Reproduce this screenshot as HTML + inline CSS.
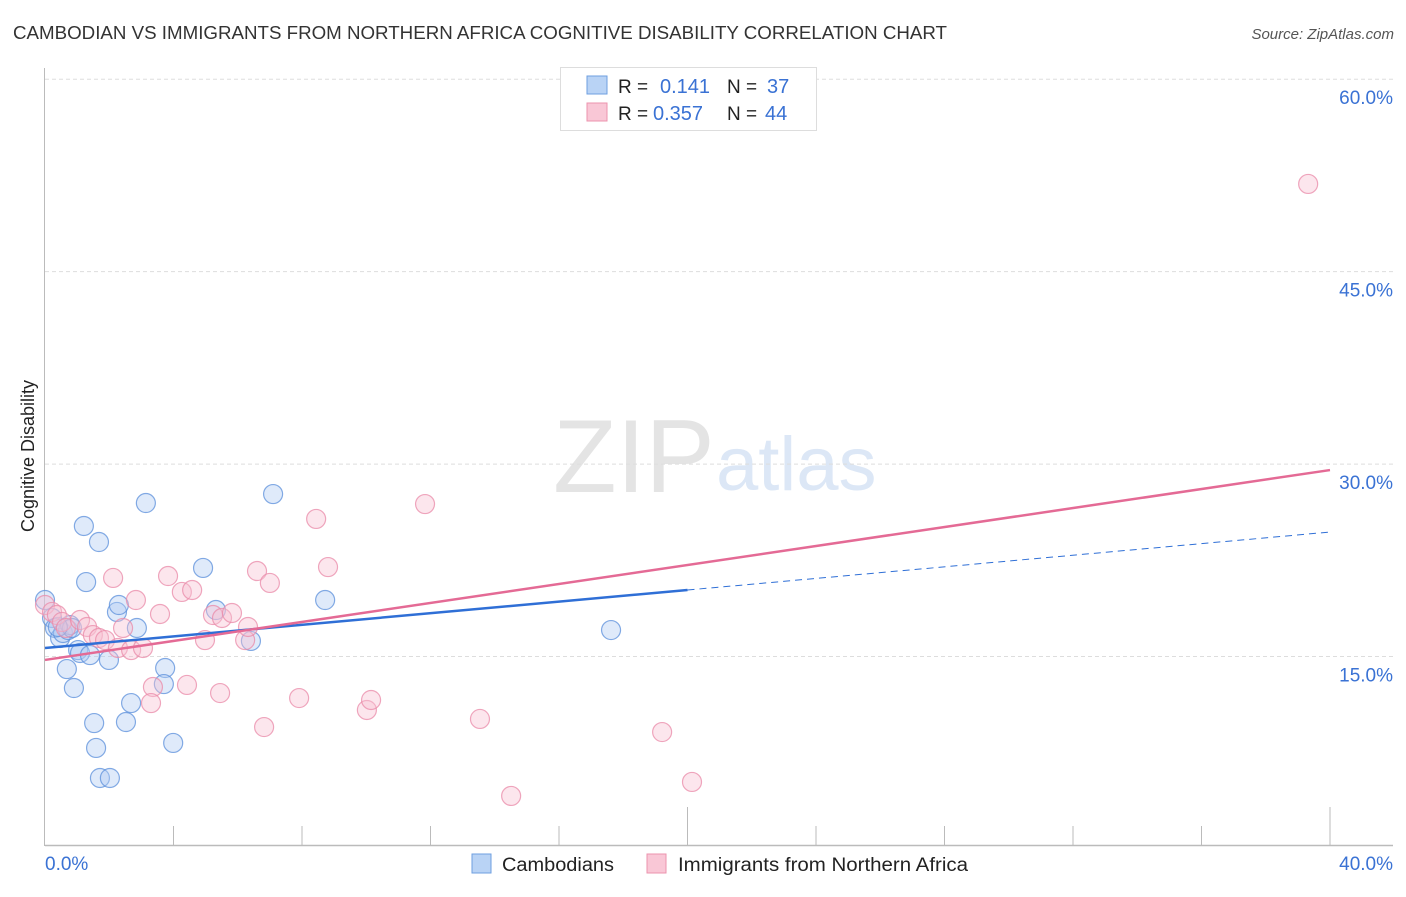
<!DOCTYPE html>
<html><head><meta charset="utf-8"><style>
body{margin:0;background:#fff;font-family:"Liberation Sans",sans-serif;}
svg text{font-family:"Liberation Sans",sans-serif;}
</style></head><body>
<svg width="1406" height="892" viewBox="0 0 1406 892" id="chart">
<text x="13" y="39" font-size="18" fill="#333" textLength="934" lengthAdjust="spacingAndGlyphs">CAMBODIAN VS IMMIGRANTS FROM NORTHERN AFRICA COGNITIVE DISABILITY CORRELATION CHART</text>
<text x="1394" y="39" font-size="15" fill="#555" font-style="italic" text-anchor="end">Source: ZipAtlas.com</text>
<g>
<text x="553" y="492" font-family="Liberation Serif" font-size="104" fill="#e4e4e4">ZIP</text>
<text x="716" y="490" font-size="76" fill="#dce7f6">atlas</text>
</g>
<g id="grid"></g>
<g id="axes"></g>
<g id="marks"></g>
<text transform="translate(34,456) rotate(-90)" font-size="18" fill="#222" text-anchor="middle">Cognitive Disability</text>
<g>
<rect x="560.5" y="67.5" width="256" height="63" fill="#fff" stroke="#ddd"/>
<rect x="587" y="76" width="20" height="18" fill="#b9d3f5" stroke="#6e9fe0"/>
<rect x="587" y="103" width="20" height="18" fill="#f9c7d6" stroke="#ec93ae"/>
<text x="618" y="93" font-size="19" fill="#222">R = </text><text x="660" y="93" font-size="20" fill="#3a72d4">0.141</text>
<text x="727" y="93" font-size="19" fill="#222">N = </text><text x="767" y="93" font-size="20" fill="#3a72d4">37</text>
<text x="618" y="120" font-size="19" fill="#222">R = </text><text x="653" y="120" font-size="20" fill="#3a72d4">0.357</text>
<text x="727" y="120" font-size="19" fill="#222">N = </text><text x="765" y="120" font-size="20" fill="#3a72d4">44</text>
</g>
<g>
<rect x="472" y="854" width="19" height="19" fill="#b9d3f5" stroke="#6e9fe0"/>
<text x="502" y="871" font-size="19" fill="#222" textLength="112" lengthAdjust="spacingAndGlyphs">Cambodians</text>
<rect x="647" y="854" width="19" height="19" fill="#f9c7d6" stroke="#ec93ae"/>
<text x="678" y="871" font-size="19" fill="#222" textLength="290" lengthAdjust="spacingAndGlyphs">Immigrants from Northern Africa</text>
</g>
</svg>
<script>
const yTicks=[15,30,45,60];
const yTickLabels=["15.0%","30.0%","45.0%","60.0%"];
const xTickLabels=["0.0%","40.0%"];
const blueX=[0,0.22,0.31,0.47,0.56,0.72,0.78,0.84,1.03,1.09,1.21,1.28,1.40,0.68,0.90,1.68,1.99,2.24,2.30,1.53,1.59,1.71,2.02,2.52,2.68,2.86,3.14,3.74,3.70,3.99,4.92,5.32,6.41,7.10,8.72,17.62,0.40];
const blueY=[19.25,17.85,17.07,16.29,16.68,16.91,17.30,17.07,15.35,15.12,25.02,20.65,14.96,13.87,12.39,23.77,14.58,18.32,18.86,9.66,7.72,5.38,5.38,9.74,11.22,17.07,26.81,13.95,12.70,8.11,21.75,18.47,16.06,27.51,19.25,16.91,17.15];
const pinkX=[0,0.22,0.37,0.53,0.65,1.09,1.31,1.49,1.68,1.87,2.12,2.27,2.43,2.68,2.83,3.05,3.36,3.30,3.58,3.83,4.26,4.58,4.42,4.98,5.23,5.45,5.51,5.82,6.23,6.32,6.60,6.82,7.00,7.91,8.44,8.81,10.02,10.15,11.83,13.54,14.51,19.21,20.14,39.32];
const pinkY=[18.86,18.32,18.08,17.54,17.07,17.69,17.15,16.52,16.29,16.13,20.97,15.51,17.07,15.35,19.25,15.51,12.47,11.22,18.16,21.12,19.88,20.03,12.63,16.13,18.08,12.00,17.85,18.24,16.13,17.15,21.51,9.35,20.58,11.61,25.57,21.82,10.68,11.46,26.73,9.98,3.98,8.96,5.07,51.68];
const blueTrend=[15.51,0.226]; // intercept, slope
const pinkTrend=[14.58,0.37];
const blueSolidEnd=20;

const NS="http://www.w3.org/2000/svg";
const X0=45,X1=1330,Y0=847,PXY=12.83;
const sx=v=>X0+(X1-X0)*v/40;
const sy=v=>Y0-v*PXY;
function mk(tag,attrs,parent){const e=document.createElementNS(NS,tag);for(const k in attrs)e.setAttribute(k,attrs[k]);parent.appendChild(e);return e;}
const grid=document.getElementById('grid'),axes=document.getElementById('axes'),marks=document.getElementById('marks');
yTicks.forEach((t,i)=>{
  const l=mk('line',{x1:45,x2:1393,y1:sy(t)+2,y2:sy(t)+2,stroke:'#ddd','stroke-dasharray':'4,3'},grid);
  
  
  const tx=mk('text',{x:1393,y:sy(t)+27,'font-size':19,fill:'#3a72d4','text-anchor':'end'},grid);
  tx.textContent=yTickLabels[i];
  
  
});
const ya=mk('line',{x1:44.5,x2:44.5,y1:68,y2:846,stroke:'#bbb'},axes);


const xa=mk('line',{x1:45,x2:1393,y1:845.5,y2:845.5,stroke:'#bbb','stroke-width':1.5},axes);


for(let i=1;i<=10;i++){
  const major=(i==5||i==10);
  const t=mk('line',{x1:sx(i*4),x2:sx(i*4),y1:major?807:826,y2:845,stroke:'#bbb'},axes);
  
  
}
[[0,'start'],[40,'end']].forEach((p,i)=>{
  const t=mk('text',{x:i?1393:45,y:870,'font-size':19,fill:'#3a72d4','text-anchor':p[1]},axes);
  t.textContent=xTickLabels[i];
  
  
});
function dots(xs,ys,fill,stroke,name){
  xs.forEach((x,i)=>{
    const c=mk('circle',{cx:sx(x),cy:sy(ys[i]),r:9.5,fill:fill,'fill-opacity':0.4,stroke:stroke,'stroke-opacity':0.75,'stroke-width':1.2},marks);
    
    
  });
}
dots(blueX,blueY,'#aecbf2','#5b8fdb','cambodian-point');
dots(pinkX,pinkY,'#f8c0d1','#e98aa8','immigrant-point');
const bt=v=>blueTrend[0]+blueTrend[1]*v, pt=v=>pinkTrend[0]+pinkTrend[1]*v;
const l1=mk('line',{x1:sx(0),y1:sy(bt(0)),x2:sx(blueSolidEnd),y2:sy(bt(blueSolidEnd)),stroke:'#2f6fd6','stroke-width':2.5},marks);


const l2=mk('line',{x1:sx(blueSolidEnd),y1:sy(bt(blueSolidEnd)),x2:sx(40),y2:sy(bt(40)),stroke:'#2f6fd6','stroke-width':1,'stroke-dasharray':'7,5'},marks);


const l3=mk('line',{x1:sx(0),y1:sy(pt(0)),x2:sx(40),y2:sy(pt(40)),stroke:'#e46a95','stroke-width':2.5},marks);


</script>
</body></html>
